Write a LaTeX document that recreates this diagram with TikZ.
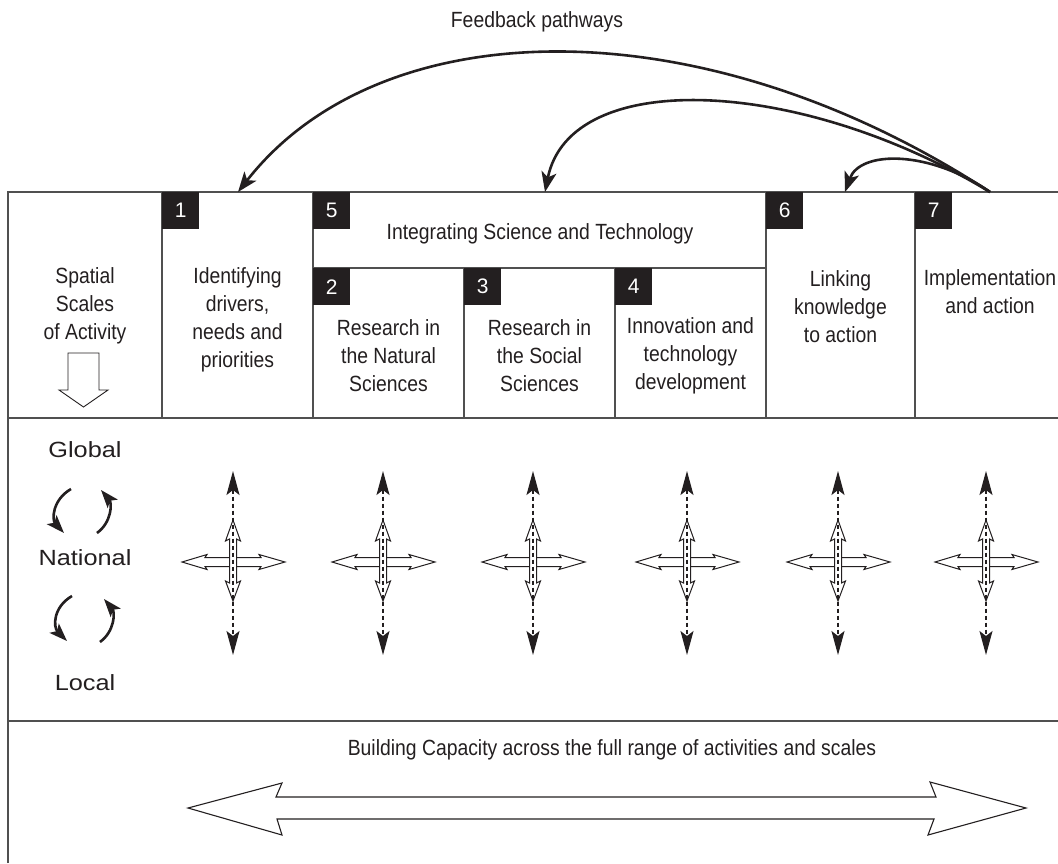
\documentclass[tikz,border=0pt]{standalone}
\usepackage{fontspec}
\setmainfont{Liberation Sans}
\newfontfamily\condfont{Liberation Sans}[FakeStretch=0.88]
\newfontfamily\widefont{Liberation Sans}[FakeStretch=1.15]
\usetikzlibrary{arrows.meta}
\definecolor{ink}{HTML}{231F20}
\definecolor{rulecol}{HTML}{505050}
\newcommand\xcross[2]{%
  \begin{scope}[shift={(#1,#2)}]
    \draw[hollow] (-51,0) -- (-26,-7.5) -- (-28,-4.5) -- (28,-4.5) -- (26,-7.5) -- (52,0)
      -- (26,7.5) -- (28,4.5) -- (-28,4.5) -- (-26,7.5) -- cycle;
    \draw[hollow] (0,-42) -- (7.5,-21) -- (3.5,-23) -- (3.5,21) -- (7.5,19) -- (0,39)
      -- (-7.5,19) -- (-3.5,21) -- (-3.5,-23) -- (-7.5,-21) -- cycle;
    \draw[dashvert] (0,-91) -- (0,93);
  \end{scope}}
\begin{document}
\begin{tikzpicture}[x=1pt,y=-1pt,
  frame/.style={draw=rulecol, line width=1.4pt},
  cell/.style={font=\condfont\fontsize{22}{28}\selectfont, align=center, text=ink, inner sep=0pt},
  numbox/.style={fill=ink, minimum size=37pt, inner sep=0pt, anchor=north west, text=white,
    font=\fontsize{21}{21}\selectfont},
  scalelab/.style={font=\widefont\fontsize{22}{26}\selectfont, text=ink, inner sep=0pt},
  feedback/.style={draw=ink, line width=2.6pt, -{Stealth[length=20pt,width=15pt,inset=5pt]}},
  cyclearrow/.style={draw=ink, line width=2.6pt, -{Stealth[length=18pt,width=13pt,inset=4pt]}},
  hollow/.style={draw=ink, fill=white, line width=1pt, line join=miter},
  dashvert/.style={draw=ink, line width=1.2pt, dash pattern=on 4pt off 3pt,
    {Stealth[length=24pt,width=13pt,inset=5pt]}-{Stealth[length=24pt,width=13pt,inset=5pt]}}
]
\useasboundingbox (0,0) rectangle (1058,863);

% frame
\draw[frame] (8,863) -- (8,192) -- (1058,192);
\draw[frame] (8,418) -- (1058,418);
\draw[frame] (8,721) -- (1058,721);
\draw[frame] (162,192) -- (162,418);
\draw[frame] (313,192) -- (313,418);
\draw[frame] (766,192) -- (766,418);
\draw[frame] (915,192) -- (915,418);
\draw[frame] (313,268) -- (766,268);
\draw[frame] (464,268) -- (464,418);
\draw[frame] (615,268) -- (615,418);

% number boxes
\node[numbox] (n1) at (162,192) {1};
\node[numbox] (n5) at (313,192) {5};
\node[numbox] (n2) at (313,268) {2};
\node[numbox] (n3) at (464,268) {3};
\node[numbox] (n4) at (615,268) {4};
\node[numbox] (n6) at (766,192) {6};
\node[numbox] (n7) at (915,192) {7};

% header texts
\node[cell] (c0) at (85,306) {Spatial\\Scales\\of Activity};
\node[cell] (c1) at (237.5,320) {Identifying\\drivers,\\needs and\\priorities};
\node[cell] (c5) at (540,234) {Integrating Science and Technology};
\node[cell] (c2) at (388.5,356) {Research in\\the Natural\\Sciences};
\node[cell] (c3) at (539.5,356) {Research in\\the Social\\Sciences};
\node[cell] (c4) at (690.5,356) {Innovation and\\technology\\development};
\node[cell] (c6) at (840.5,307) {Linking\\knowledge\\to action};
\node[cell] (c7) at (990,292) {Implementation\\and action};

% down arrow
\draw[hollow, line width=0.9pt] (68,353) -- (99,353) -- (99,390) -- (108,390) -- (83.5,407)
  -- (59,390) -- (68,390) -- cycle;

% feedback
\node[cell] (fb) at (537,22) {Feedback pathways};
\coordinate (src) at (990,192);
\coordinate (t1) at (238,192);
\coordinate (t5) at (545,192);
\coordinate (t6) at (845,192);
\draw[feedback] (src) .. controls (700,3) and (380,10) .. (t1);
\draw[feedback] (src) .. controls (800,77) and (570,67) .. (t5);
\draw[feedback] (src) .. controls (930,150) and (860,150) .. (t6);

% scales
\node[scalelab] (glob) at (85,450) {Global};
\node[scalelab] (nat) at (85,558) {National};
\node[scalelab] (loc) at (85,683) {Local};
\draw[cyclearrow] (71,489) .. controls (52,500) and (52,520) .. (64,533);
\draw[cyclearrow] (97,533) .. controls (112,522) and (112,503) .. (101,490);
\draw[cyclearrow] (72,596) .. controls (53,607) and (53,627) .. (67,641);
\draw[cyclearrow] (100,642) .. controls (115,631) and (115,612) .. (104,599);

% crosses
\xcross{233}{562}
\xcross{383}{562}
\xcross{533}{562}
\xcross{687}{562}
\xcross{838}{562}
\xcross{986}{562}

% bottom
\node[cell] (bc) at (612,750) {Building Capacity across the full range of activities and scales};
\draw[hollow, line width=1.1pt] (188,808) -- (282,783) -- (276,797) -- (936,797) -- (930,782)
  -- (1026,808) -- (928,835) -- (934,819) -- (277,819) -- (282,835) -- cycle;
\end{tikzpicture}
\end{document}
